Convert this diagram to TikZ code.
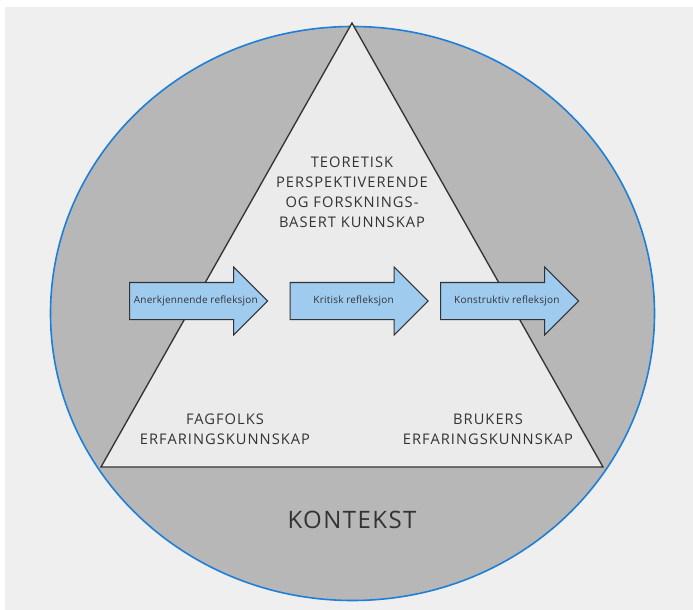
\documentclass[tikz,border=0pt]{standalone}
\usepackage{fontspec}
\setmainfont{Open Sans}
\usetikzlibrary{shapes.arrows, positioning, calc}
\definecolor{panelGray}{HTML}{EFEFEF}
\definecolor{ctxGray}{HTML}{B7B7B7}
\definecolor{triGray}{HTML}{EBEBEB}
\definecolor{ringBlue}{HTML}{1E7FD8}
\definecolor{arrowBlue}{HTML}{9FCBEF}
\definecolor{inkGray}{HTML}{333333}

\tikzset{
  reflarrow/.style={single arrow, draw=inkGray, fill=arrowBlue, thick,
    single arrow head extend=11.5pt, shape border uses incircle=false,
    minimum height=103.5pt, inner ysep=13.5pt, inner xsep=0pt,
    text height=0pt, text depth=0pt, anchor=tail},
  refltext/.style={text=inkGray, inner sep=0pt,
    font=\fontsize{7.5}{9}\selectfont\addfontfeature{LetterSpace=2}},
  kunnskap/.style={align=center, text=inkGray,
    font=\fontsize{11}{15}\selectfont\addfontfeature{LetterSpace=7}}
}

\begin{document}
\begin{tikzpicture}[x=0.75pt, y=-0.75pt]
  % page and panel
  \fill[white] (0,0) rectangle (693,610);
  \fill[panelGray] (5,7) rectangle (693,610);

  % context ellipse
  \draw[ringBlue, fill=ctxGray, line width=1.2pt] (352.5,313.5) ellipse [x radius=302, y radius=287];

  % knowledge triangle
  \coordinate (top) at (352,23);
  \coordinate (bl) at (101,467);
  \coordinate (br) at (603,467);
  \draw[inkGray, fill=triGray, line width=1pt] (top) -- (br) -- (bl) -- cycle;

  % texts
  \node[kunnskap] (teori) at (352,192) {TEORETISK\\PERSPEKTIVERENDE\\OG FORSKNINGS-\\BASERT KUNNSKAP};
  \node[kunnskap] (fagfolk) at (225,429) {FAGFOLKS\\ERFARINGSKUNNSKAP};
  \node[kunnskap] (brukere) at (488,429) {BRUKERS\\ERFARINGSKUNNSKAP};
  \node[text=inkGray, font=\fontsize{18}{21}\selectfont\addfontfeature{LetterSpace=6}] (kontekst) at (352,520) {KONTEKST};

  % reflection arrows
  \node[reflarrow] (anerk) at (129,301) {};
  \node[reflarrow] (kritisk) at (289.5,301) {};
  \node[reflarrow] (konstr) at (440,301) {};
  \node[refltext] (anerkT) at ($(anerk.tail)!0.48!(anerk.tip)$) {Anerkjennende refleksjon};
  \node[refltext] (kritiskT) at ($(kritisk.tail)!0.46!(kritisk.tip)$) {Kritisk refleksjon};
  \node[refltext] (konstrT) at ($(konstr.tail)!0.48!(konstr.tip)$) {Konstruktiv refleksjon};
\end{tikzpicture}
\end{document}
